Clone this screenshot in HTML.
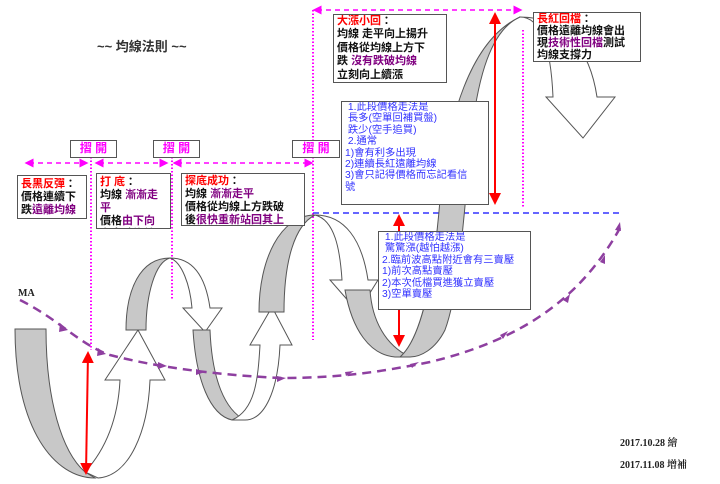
<!DOCTYPE html>
<html><head><meta charset="utf-8"><style>
body{margin:0;background:#fff;width:720px;height:484px;overflow:hidden;position:relative;font-family:"Liberation Sans","Noto Sans CJK TC",sans-serif}
.b{position:absolute;background:#fff;border:1.5px solid #555;box-sizing:border-box;font-weight:bold;font-size:11px;line-height:13px;padding:0 3px;overflow:hidden;color:#111;white-space:nowrap}
.r{color:#f00}.p{color:#800080}
.bl{color:#33f;font-weight:normal;font-size:10.3px;line-height:11.4px}
.k{position:absolute;background:#fff;border:1.5px solid #555;box-sizing:border-box;color:#f0f;font-weight:bold;font-size:12px;text-align:center;line-height:15px}
svg{position:absolute;left:0;top:0}
</style></head><body>
<svg width="720" height="484">
<defs>
<marker id="pm" markerWidth="6" markerHeight="6" refX="3" refY="3" orient="auto"><path d="M0,0L6,3L0,6z" fill="#f0f"/></marker>
<marker id="pm2" markerWidth="6" markerHeight="6" refX="3" refY="3" orient="auto-start-reverse"><path d="M0,0L6,3L0,6z" fill="#f0f"/></marker>
<marker id="rm" markerWidth="6" markerHeight="6" refX="5" refY="3" orient="auto-start-reverse"><path d="M0,0L6,3L0,6z" fill="#f00"/></marker>
</defs>
<g stroke="#f0f" stroke-width="2" stroke-dasharray="1.5,2" fill="none">
<line x1="91" y1="150" x2="91" y2="350"/><line x1="172" y1="150" x2="172" y2="300"/>
<line x1="313" y1="10" x2="313" y2="340"/><line x1="523" y1="30" x2="523" y2="208"/>
</g>
<g stroke="#f0f" stroke-width="1.5" stroke-dasharray="5,4" fill="none" marker-start="url(#pm2)" marker-end="url(#pm)">
<line x1="29" y1="163" x2="84" y2="163"/><line x1="99" y1="163" x2="164" y2="163"/>
<line x1="177" y1="163" x2="309" y2="163"/><line x1="317" y1="10" x2="518" y2="10"/>
</g>
<line x1="313" y1="213" x2="620" y2="213" stroke="#33f" stroke-width="1.5" stroke-dasharray="6,4"/>
<g stroke="#555" stroke-width="1">
<path d="M15,329 L46,329 C46,400 62,452 85,472 L95,478 C55,478 15,430 15,329 Z" fill="#c8c8c8"/>
<path d="M85,472 C105,450 118,420 120,380 L105,380 L138,330 L165,380 L150,380 C148,430 130,476 98,478 Z" fill="#fff"/>
<path d="M126,330 L146,330 C146,295 155,262 170,258 C140,258 126,290 126,330 Z" fill="#c8c8c8"/>
<path d="M170,258 C182,262 190,285 192,308 L183,308 L205,332 L222,308 L210,308 C206,280 195,258 170,258 Z" fill="#fff"/>
<path d="M193,330 C196,380 210,415 232,420 L245,420 C225,410 212,380 210,330 Z" fill="#c8c8c8"/>
<path d="M232,420 C255,410 258,380 260,345 L250,345 L272,307 L292,345 L280,345 C278,390 265,420 245,420 Z" fill="#fff"/>
<path d="M259,312 L284,312 C284,260 295,225 315,215 C280,215 259,260 259,312 Z" fill="#c8c8c8"/>
<path d="M315,215 C335,220 340,250 342,280 L330,280 L358,312 L378,280 L368,280 C362,240 345,215 315,215 Z" fill="#fff"/>
<path d="M345,290 C352,330 370,355 395,357 L410,357 C385,345 372,320 370,290 Z" fill="#c8c8c8"/>
<path d="M400,357 C425,335 435,260 440,200 C447,120 470,40 520,17 C490,30 478,80 472,130 C465,200 460,290 445,330 C435,350 420,357 410,357 Z" fill="#c8c8c8"/>
<path d="M520,17 C542,17 551,50 553,97 L546,97 L583,138 L615,97 L597,97 C590,50 565,17 520,17 Z" fill="#fff"/>
</g>
<g stroke="#f00" stroke-width="2" marker-start="url(#rm)" marker-end="url(#rm)">
<line x1="88" y1="353" x2="86" y2="473"/><line x1="399" y1="216" x2="399" y2="345"/><line x1="495" y1="14" x2="495" y2="203"/>
</g>
<path d="M20,300 C60,320 80,345 110,355 C160,368 220,375 280,378 C340,378 380,372 430,362 C520,340 580,300 620,228" fill="none" stroke="#8e3fa0" stroke-width="2.5" stroke-dasharray="9,6"/>
<g fill="#8e3fa0">
<path d="M60,323l8,7-9,2z"/><path d="M98,348l8,6-9,2z"/><path d="M158,362l9,4-9,3z"/><path d="M196,369l9,3-9,3z"/>
<path d="M277,376l9,2-9,4z"/><path d="M345,372l9,-1-8,5z"/><path d="M410,364l9,-2-7,6z"/><path d="M500,335l8,-4-5,8z"/><path d="M563,300l7,-6-2,9z"/><path d="M600,262l5,-7 0,9z"/><path d="M615,230l5,-8 1,9z"/>
</g>
<text x="97" y="51" font-family="Liberation Sans,Noto Sans CJK TC,sans-serif" font-size="13" font-weight="bold" fill="#333">~~  均線法則 ~~</text>
<text x="18" y="296" font-family="Liberation Serif,serif" font-size="10" font-weight="bold" fill="#222">MA</text>
<text x="620" y="446" font-family="Liberation Serif,Noto Serif CJK SC,serif" font-size="10" font-weight="bold" fill="#222">2017.10.28  繪</text>
<text x="620" y="468" font-family="Liberation Serif,Noto Serif CJK SC,serif" font-size="10" font-weight="bold" fill="#222">2017.11.08  增補</text>
</svg>
<div class="k" style="left:70px;top:140px;width:47px;height:18px">摺 開</div>
<div class="k" style="left:153px;top:140px;width:47px;height:18px">摺 開</div>
<div class="k" style="left:292px;top:140px;width:48px;height:18px">摺 開</div>
<div class="b" style="left:17px;top:175px;width:70px;height:44px;padding-top:2px"><span class="r">長黑反彈</span>：<br>價格連續下<br>跌<span class="p">遠離均線</span></div>
<div class="b" style="left:96px;top:173px;width:75px;height:56px;padding-top:2px"><span class="r">打 底</span>：<br>均線 <span class="p">漸漸走</span><br><span class="p">平</span><br>價格<span class="p">由下向</span><br>上突破均線</div>
<div class="b" style="left:181px;top:173px;width:124px;height:53px;padding-top:1px"><span class="r">探底成功</span>：<br>均線 <span class="p">漸漸走平</span><br>價格從均線上方跌破<br>後<span class="p">很快重新站回其上</span></div>
<div class="b" style="left:333px;top:14px;width:114px;height:69px;line-height:13.4px"><span class="r">大漲小回</span>：<br>均線 走平向上揚升<br>價格從均線上方下<br>跌 <span class="p">沒有跌破均線</span><br>立刻向上續漲</div>
<div class="b" style="left:533px;top:12px;width:108px;height:50px;line-height:12px"><span class="r">長紅回檔</span>：<br>價格遠離均線會出<br>現<span class="p">技術性回檔</span>測試<br>均線支撐力</div>
<div class="b bl" style="left:341px;top:101px;width:148px;height:104px">&nbsp;1.此段價格走法是<br>&nbsp;長多(空單回補買盤)<br>&nbsp;跌少(空手追買)<br>&nbsp;2.通常<br>1)會有利多出現<br>2)連續長紅遠離均線<br>3)會只記得價格而忘記看信<br>號</div>
<div class="b bl" style="left:378px;top:231px;width:153px;height:79px">&nbsp;1.此段價格走法是<br>&nbsp;驚驚漲(越怕越漲)<br>2.臨前波高點附近會有三賣壓<br>1)前次高點賣壓<br>2)本次低檔買進獲立賣壓<br>3)空單賣壓</div>
</body></html>
